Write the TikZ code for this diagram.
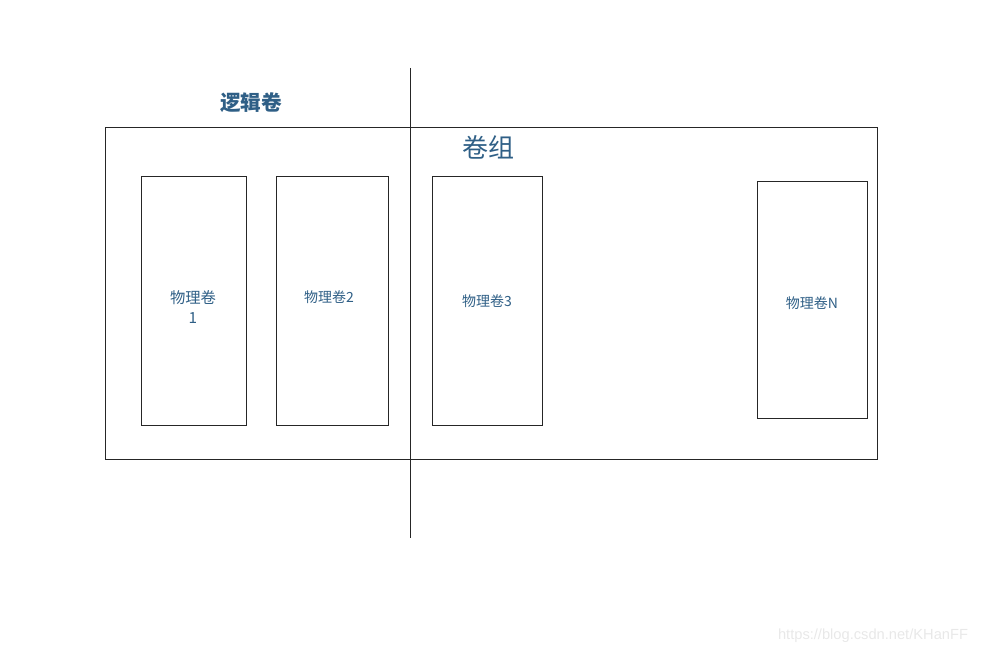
\documentclass[tikz,border=0pt]{standalone}
\usepackage{fontspec}
\setmainfont{Liberation Sans}
\newfontfamily\cjk{Noto Sans CJK SC}
\definecolor{txtblue}{HTML}{2F5F86}
\begin{document}
\begin{tikzpicture}[x=0.75pt,y=-0.75pt,
  pvbox/.style={draw=black!85,line width=0.65pt},
  pvlabel/.style={text=txtblue,font=\cjk\fontsize{10.5}{12.5}\selectfont,align=center,inner sep=0pt}]
\useasboundingbox (0,0) rectangle (995,655);
\draw[draw=black!85,line width=0.65pt] (105,127) rectangle (877,459);
\coordinate (vtop) at (410,68);
\coordinate (vbot) at (410,538);
\draw[draw=black!85,line width=0.65pt] (vtop) -- (vbot);
\node[text=txtblue,font=\cjk\bfseries\fontsize{15.5}{18}\selectfont] (lv) at (251,103) {逻辑卷};
\node[text=txtblue,font=\cjk\fontsize{19.5}{22}\selectfont] (vg) at (488,147) {卷组};
\draw[pvbox] (141,176) rectangle (246,425);
\draw[pvbox] (276,176) rectangle (388,425);
\draw[pvbox] (432,176) rectangle (542,425);
\draw[pvbox] (757,181) rectangle (867,418);
\node[pvlabel,font=\cjk\fontsize{11.5}{14.5}\selectfont] (p1) at (193,307) {物理卷\\1};
\node[pvlabel] (p2) at (329,297) {物理卷2};
\node[pvlabel] (p3) at (487,301) {物理卷3};
\node[pvlabel] (pn) at (812,303) {物理卷N};
\node[text=black!9,font=\fontsize{11}{13}\selectfont] (wm) at (873,636) {https://blog.csdn.net/KHanFF};
\end{tikzpicture}
\end{document}
